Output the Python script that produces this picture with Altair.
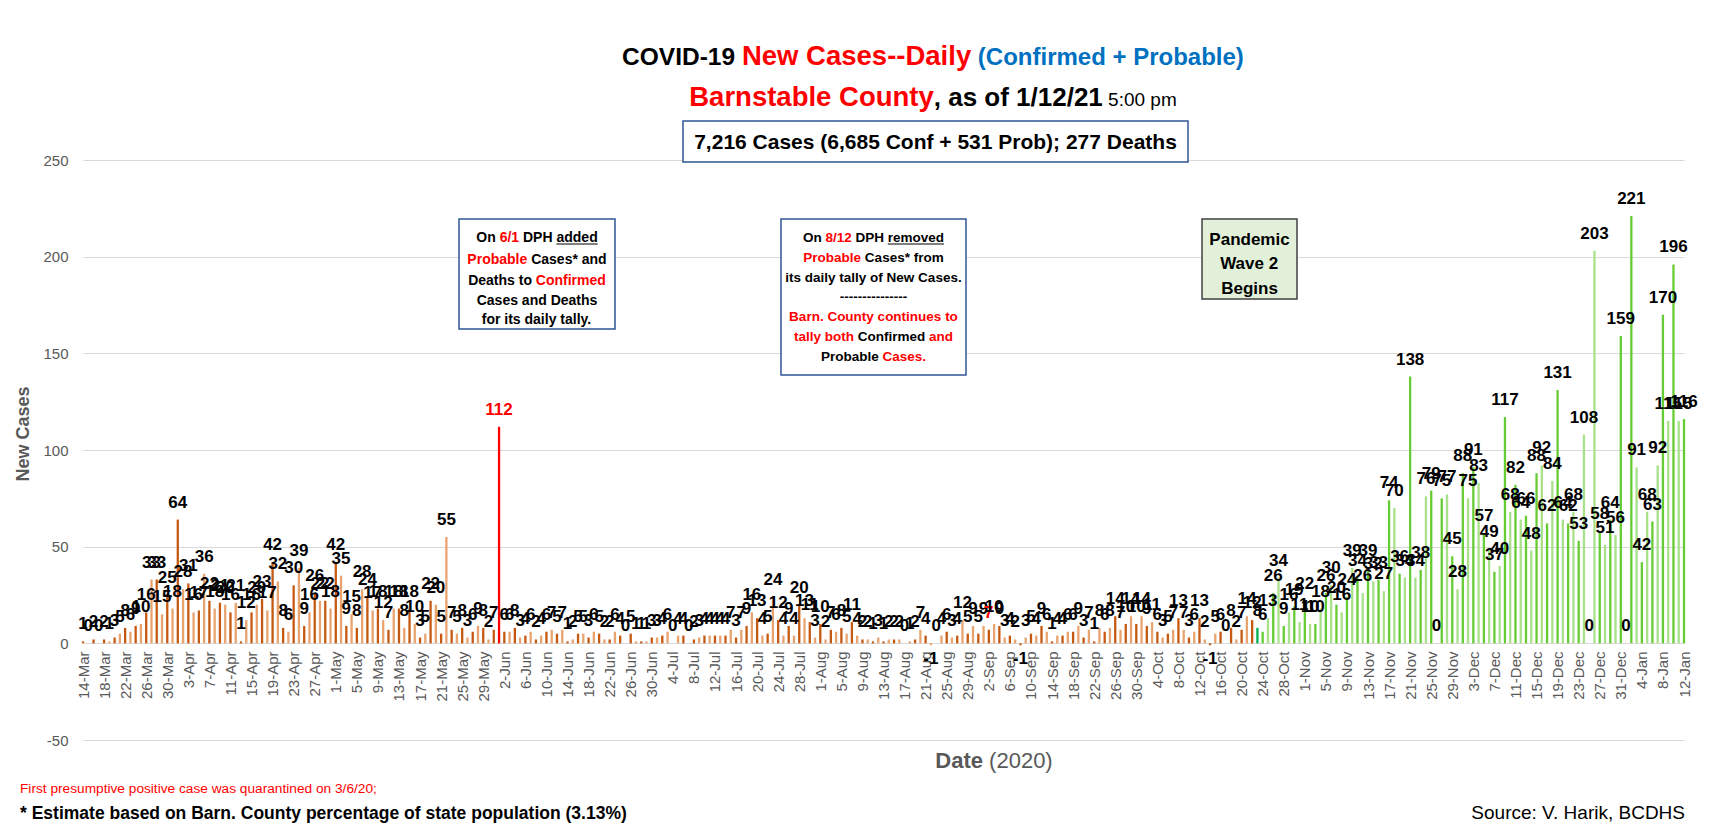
import altair as alt
import pandas as pd

# ---------------- data ----------------
dates = pd.date_range("2020-03-14", "2021-01-12", freq="D")
day_labels = [f"{d.day}-{d.strftime('%b')}" for d in dates]
tick_days = list(range(0, 305, 4))
tick_labels = [day_labels[i] for i in tick_days]

new_cases = (
    [1, 0, 2, 0, 2, 1, 3, 5, 8, 6, 9, 10, 16, 33, 33, 15, 25, 18, 64, 28, 31, 16, 17, 36]
    + [22, 18, 21, 20, 16, 21, 1, 12, 16, 20, 23, 17, 42, 32, 8, 6, 30, 39, 9, 16, 26, 22, 22, 18, 42, 35, 9]
    + [15, 8, 28, 24, 17, 18, 12, 7, 18, 18, 8, 18, 10, 3, 5, 22, 20, 5, 55, 7, 5, 8, 3, 6, 9, 8, 2, 7]
    + [112, 6, 6, 8, 3, 4, 6, 2, 4, 6, 7, 5, 7, 1, 2, 5, 5, 3, 6, 5, 2, 2, 6, 4, 0, 5, 1]
    + [1, 1, 3, 3, 4, 6, 0, 4, 4, 0, 2, 3, 4, 4, 4, 4, 4, 7, 3, 7, 9, 16, 13, 4, 5, 24, 12, 4]
    + [9, 4, 20, 13, 11, 3, 10, 2, 7, 6, 8, 5, 11, 4, 2, 2, 1, 3, 1, 2, 2, 2, 0, 1, 2, 7, 4]
    + [-1, 0, 4, 6, 3, 4, 12, 5, 9, 5, 9, 7, 10, 9, 3, 4, 2, -1, 3, 5, 4, 9, 6, 1, 4, 4, 6, 6]
    + [9, 3, 7, 1, 8, 6, 8, 14, 7, 10, 14, 10, 14, 9, 11, 6, 3, 5, 7, 13, 7, 3, 6, 13, 2, -1, 5]
    + [6, 0, 8, 2, 7, 14, 12, 8, 6, 13, 26, 34, 9, 16, 19, 11, 22, 10, 10, 18, 26, 30, 20, 16]
    + [24, 39, 34, 26, 39, 32, 33, 27, 74, 70, 36, 34, 138, 34, 38, 76, 79, 0, 75, 77, 45, 28, 88, 75]
    + [91, 83, 57, 49, 37, 40, 117, 68, 82, 64, 66, 48, 88, 92, 62, 84, 131, 64, 62, 68, 53, 108]
    + [0, 203, 58, 51, 64, 56, 159, 0, 221, 91, 42, 68, 63, 92, 170, 115, 196, 115, 116]
)
assert len(new_cases) == len(day_labels) == 305

WAVE2_START = 223      # 23-Oct
RED_BAR_DAY = 79       # 1-Jun (probable cases added)
RED_LABEL_DAYS = [79, 172]

df = pd.DataFrame({"day": list(range(len(new_cases))), "date": day_labels, "cases": new_cases})

# ---------------- layout helpers ----------------
W, H = 1601, 580
PAD_L, PAD_T = 75, 152
ORIGIN_X, ORIGIN_Y = 8 + PAD_L, 8 + PAD_T

REG = {" ": 278, "!": 278, "(": 333, ")": 333, "*": 389, "+": 584, ",": 278, "-": 333, ".": 278,
       "/": 278, ":": 278, ";": 278, "%": 889, "?": 556}
BOLD = {" ": 278, "!": 333, "(": 333, ")": 333, "*": 389, "+": 584, ",": 278, "-": 333, ".": 278,
        "/": 278, ":": 333, ";": 333, "%": 889, "?": 611}
for ch in "0123456789":
    REG[ch] = 556
    BOLD[ch] = 556
REG.update(dict(zip("ABCDEFGHIJKLMNOPQRSTUVWXYZ",
                    [667, 667, 722, 722, 667, 611, 778, 722, 278, 500, 667, 556, 833, 722, 778, 667, 778, 722, 667, 611, 722, 667, 944, 667, 667, 611])))
BOLD.update(dict(zip("ABCDEFGHIJKLMNOPQRSTUVWXYZ",
                     [722, 722, 722, 722, 667, 611, 778, 722, 278, 556, 722, 611, 833, 722, 778, 667, 778, 722, 667, 611, 722, 667, 944, 667, 667, 611])))
REG.update(dict(zip("abcdefghijklmnopqrstuvwxyz",
                    [556, 556, 500, 556, 556, 278, 556, 556, 222, 222, 500, 222, 833, 556, 556, 556, 556, 333, 500, 278, 556, 500, 722, 500, 500, 500])))
BOLD.update(dict(zip("abcdefghijklmnopqrstuvwxyz",
                     [556, 611, 556, 611, 556, 333, 611, 611, 278, 278, 556, 278, 889, 611, 611, 611, 611, 389, 556, 333, 611, 556, 778, 556, 556, 500])))

FONT = "Liberation Sans"
BLACK, RED, BLUE, GRAY = "#000000", "#FF0000", "#0070C0", "#595959"
ONE = alt.Data(values=[{"k": 1}])


def tw(s, size, bold):
    table = BOLD if bold else REG
    return sum(table.get(c, 556) for c in s) * size / 1000.0


def txt(s, X, Y, size, color=BLACK, bold=False, align="left", baseline="alphabetic", angle=0):
    return alt.Chart(ONE).mark_text(
        text=s, font=FONT, fontSize=size, fontWeight="bold" if bold else "normal",
        color=color, align=align, baseline=baseline, angle=angle,
    ).encode(x=alt.value(X - ORIGIN_X), y=alt.value(Y - ORIGIN_Y))


def rich(segments, cx, Y):
    """segments: (text, color, bold, size, underline)"""
    total = sum(tw(s[0], s[3], s[2]) for s in segments)
    x = cx - total / 2
    out = []
    for s in segments:
        t, c, b, sz = s[0], s[1], s[2], s[3]
        ul = len(s) > 4 and s[4]
        lead = len(t) - len(t.lstrip(" "))
        xs = x + tw(" " * lead, sz, b)
        core = t.strip(" ")
        if core:
            out.append(txt(core, xs, Y, sz, c, b))
            if ul:
                out.append(alt.Chart(ONE).mark_rule(color=c, strokeWidth=1.2).encode(
                    x=alt.value(xs - ORIGIN_X), x2=alt.value(xs + tw(core, sz, b) - ORIGIN_X),
                    y=alt.value(Y + 2 - ORIGIN_Y)))
        x += tw(t, sz, b)
    return out


def box(X1, Y1, X2, Y2, stroke, fill="white", sw=1.5):
    return alt.Chart(ONE).mark_rect(fill=fill, stroke=stroke, strokeWidth=sw).encode(
        x=alt.value(X1 - ORIGIN_X), x2=alt.value(X2 - ORIGIN_X),
        y=alt.value(Y1 - ORIGIN_Y), y2=alt.value(Y2 - ORIGIN_Y))


# ---------------- main chart ----------------
label_expr = "[" + ",".join(f"'{s}'" for s in tick_labels) + "][round(datum.value/4)]"

x_scale = alt.Scale(domain=[0, 304], nice=False, zero=False, padding=0)
y_scale = alt.Scale(domain=[-50, 250], nice=False)

x_axis = alt.Axis(values=tick_days, labelExpr=label_expr, labelAngle=270, offset=-97,
                  grid=False, domain=False, ticks=False, labelColor=GRAY,
                  labelFontSize=15, labelFont=FONT, labelPadding=8, title=None,
                  labelOverlap=False, labelSeparation=0, labelBound=False, labelFlush=False)
y_axis = alt.Axis(values=[-50, 0, 50, 100, 150, 200, 250], labelExpr="'' + datum.value",
                  grid=True, gridColor="#D9D9D9", gridWidth=1, domain=False, ticks=False,
                  labelColor=GRAY, labelFontSize=15, labelFont=FONT, labelPadding=15, title=None)


def X():
    return alt.X("day:Q", scale=x_scale, axis=x_axis)


def Y():
    return alt.Y("cases:Q", scale=y_scale, axis=y_axis)


base = alt.Chart(df).transform_calculate(
    grp=f"datum.day == {RED_BAR_DAY} ? 'r' : datum.day == {WAVE2_START} ? 't' : "
        f"(datum.day < {WAVE2_START} ? 'o' : 'g') + (datum.day % 2)",
    lab=f"indexof({RED_LABEL_DAYS}, datum.day) >= 0 ? 'red' : 'black'",
    txt="'' + datum.cases",
)

bars = base.mark_bar(size=2.3).encode(
    x=X(), y=Y(),
    color=alt.Color("grp:N", legend=None,
                    scale=alt.Scale(domain=["o0", "o1", "g0", "g1", "r", "t"],
                                    range=["#C65911", "#E9A36F", "#66CC33", "#A9E08A", "#FF0000", "#00B050"])),
)

lbl_pos = base.transform_filter("datum.cases >= 0").mark_text(
    font=FONT, fontSize=17, fontWeight="bold", baseline="alphabetic", dy=-12
).encode(x=X(), y=Y(), text="txt:N", color=alt.Color("lab:N", scale=None))

lbl_neg = base.transform_filter("datum.cases < 0").mark_text(
    font=FONT, fontSize=17, fontWeight="bold", baseline="top", dy=6
).encode(x=X(), y=Y(), text="txt:N", color=alt.Color("lab:N", scale=None))

layers = [bars, lbl_pos, lbl_neg]

# ---------------- titles ----------------
layers += rich([("COVID-19 ", BLACK, True, 24.5), ("New Cases--Daily", RED, True, 27.5),
                (" (Confirmed + Probable)", BLUE, True, 24)], 933, 65)
layers += rich([("Barnstable County", RED, True, 27.5), (", as of 1/12/21", BLACK, True, 26),
                (" 5:00 pm", BLACK, False, 19)], 933, 106)

layers.append(box(683, 121, 1188, 162, "#2F5597"))
layers += rich([("7,216 Cases (6,685 Conf + 531 Prob); 277 Deaths", BLACK, True, 21)], 935.5, 149)

# annotation box 1
layers.append(box(459, 219, 615, 329, "#2F5597"))
s1 = 14
layers += rich([("On ", BLACK, True, s1), ("6/1", RED, True, s1), (" DPH ", BLACK, True, s1),
                ("added", BLACK, True, s1, True)], 537, 242)
layers += rich([("Probable", RED, True, s1), (" Cases* and", BLACK, True, s1)], 537, 264)
layers += rich([("Deaths to ", BLACK, True, s1), ("Confirmed", RED, True, s1)], 537, 285)
layers += rich([("Cases and Deaths", BLACK, True, s1)], 537, 305)
layers += rich([("for its daily tally.", BLACK, True, s1)], 537, 324)

# annotation box 2
layers.append(box(781, 219, 966, 375, "#2F5597"))
s2 = 13.5
layers += rich([("On ", BLACK, True, s2), ("8/12", RED, True, s2), (" DPH ", BLACK, True, s2),
                ("removed", BLACK, True, s2, True)], 873.5, 242)
layers += rich([("Probable", RED, True, s2), (" Cases* from", BLACK, True, s2)], 873.5, 262)
layers += rich([("its daily tally of New Cases.", BLACK, True, s2)], 873.5, 281.5)
layers += rich([("---------------", BLACK, True, s2)], 873.5, 301)
layers += rich([("Barn. County continues to", RED, True, s2)], 873.5, 321)
layers += rich([("tally both ", RED, True, s2), ("Confirmed ", BLACK, True, s2), ("and", RED, True, s2)], 873.5, 341)
layers += rich([("Probable ", BLACK, True, s2), ("Cases.", RED, True, s2)], 873.5, 360.5)

# annotation box 3
layers.append(box(1202, 219, 1297, 299, "#404040", fill="#E2F0D9"))
layers += rich([("Pandemic", BLACK, True, 17)], 1249.5, 245)
layers += rich([("Wave 2", BLACK, True, 17)], 1249.5, 269)
layers += rich([("Begins", BLACK, True, 17)], 1249.5, 294)

# axis titles
layers.append(txt("New Cases", 24, 434, 18, GRAY, True, align="center", baseline="middle", angle=270))
layers += rich([("Date", GRAY, True, 22), (" (2020)", GRAY, False, 22)], 994, 768)

# footnotes
layers.append(txt("First presumptive positive case was quarantined on 3/6/20;", 20, 793, 13.7, RED))
layers.append(txt("* Estimate based on Barn. County percentage of state population (3.13%)", 20, 819, 17.5, BLACK, True))
layers.append(txt("Source: V. Harik, BCDHS", 1685, 819, 19, BLACK, align="right"))

chart = alt.layer(*layers).properties(
    width=W, height=H,
    padding={"left": PAD_L, "top": PAD_T, "right": 24, "bottom": 84},
    autosize=alt.AutoSizeParams(type="none"),
    background="white",
).configure_view(stroke=None)

chart.save("out.html", embed_options={"renderer": "svg", "actions": False})
